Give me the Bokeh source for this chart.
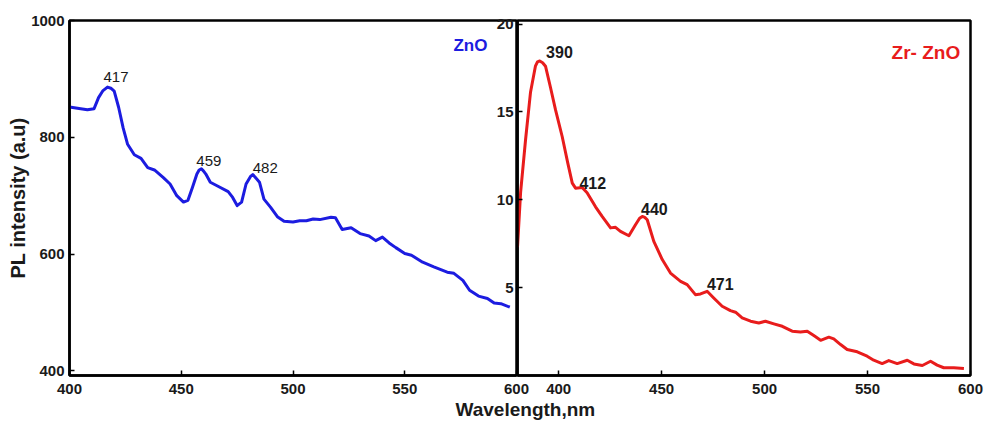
import numpy as np
from bokeh.plotting import figure
from bokeh.models import Range1d, FixedTicker, Label, ColumnDataSource, Title
from bokeh.layouts import row
from bokeh.embed import file_html
from bokeh.resources import INLINE
from bokeh.core.properties import value

# ---------------- data ----------------
zno_wl = [400, 405, 408, 411, 413, 415, 417, 418.5, 420, 422, 424, 426, 429, 432, 435, 438, 442,
          445, 448, 451, 453, 455, 457, 458, 459, 460, 461, 463, 466, 471, 473, 475, 477, 479,
          481, 482, 483, 485, 487, 490, 493, 496, 500, 503, 506, 509, 512, 517, 519, 522, 526,
          530, 534, 537, 540, 543, 546, 550, 553, 558, 563, 569, 572, 576, 579, 583,
          587, 590, 593, 597]
zno_pl = [852, 849, 847, 849, 868, 880, 886, 884, 879, 851, 816, 788, 770, 764, 748, 744, 731,
          720, 700, 689, 692, 714, 737, 744, 746, 742, 737, 723, 717, 707, 697, 683, 689, 720,
          733, 736, 732, 723, 694, 680, 664, 656, 655, 657, 657, 660, 659, 663, 662, 642, 645,
          635, 631, 623, 629, 619, 611, 601, 598, 586, 578, 569, 567, 555, 538, 528,
          524, 516, 515, 509]

zr_wl = [380, 381.5, 383.9, 386.3, 388.7, 389.7, 390.8, 392.2, 393.6, 396, 398.5, 401.7, 404.4,
         406.6, 408.2, 411.4, 413.8, 417.9, 421.1, 425.2, 427.6, 430, 434.1, 437.3, 439.3,
         440.6, 441.8, 443, 446.2, 450.3, 454.3, 459.2, 462.4, 466.4, 468.9, 472.1, 475.3,
         479.4, 483.4, 485.9, 489.1, 493.2, 497.2, 500.4, 504.5, 508.6, 513.4, 517.4, 520.7,
         523.9, 527.2, 531.2, 533.6, 536.9, 540.1, 545, 549.8, 553, 557.1, 560.3, 564.4, 569.3,
         572.5, 576.6, 580.6, 583.8, 587, 591.9, 596.8]
zr_pl = [7.3, 10.4, 13.4, 16.1, 17.6, 17.85, 17.9, 17.8, 17.6, 16.4, 15.1, 13.6, 12.1,
         10.95, 10.66, 10.7, 10.4, 9.6, 9.05, 8.4, 8.43, 8.2, 7.95, 8.58, 8.95,
         9.05, 9.0, 8.86, 7.63, 6.6, 5.83, 5.36, 5.17, 4.6, 4.64, 4.79, 4.41,
         3.94, 3.69, 3.6, 3.28, 3.09, 2.99, 3.09, 2.94, 2.8, 2.52, 2.48, 2.52,
         2.27, 2.0, 2.18, 2.08, 1.76, 1.48, 1.35, 1.1, 0.87, 0.68, 0.85, 0.68, 0.87,
         0.66, 0.57, 0.81, 0.59, 0.44, 0.44, 0.4]

zno_peaks = [417, 459, 482]
zr_peaks = [390, 412, 440, 471]

zno_xticks = [400, 450, 500, 550, 600]
zno_yticks = [400, 600, 800, 1000]
zr_xticks = [400, 450, 500, 550, 600]
zr_yticks = [5, 10, 15, 20]

# label nudges in pixels (style)
zno_dx = [-4, -5, 0]
zno_dy = [-10, -8, -7]
zr_dx = [8, -4, 0, 2]
zr_dy = [-10, -6, -8, -8]

FONT = "Liberation Sans"
BLUE = "#1c1ce0"
RED = "#e81c1c"
TXT = "#1a1a1a"


def style(p, xticks, yticks):
    p.grid.visible = False
    p.outline_line_color = "black"
    p.outline_line_width = 2.5
    p.outline_line_alpha = 1.0
    p.xaxis.ticker = FixedTicker(ticks=xticks)
    p.yaxis.ticker = FixedTicker(ticks=yticks)
    for ax in p.axis:
        ax.axis_line_width = 2.5
        ax.axis_line_color = "black"
        ax.major_tick_in = 5
        ax.major_tick_out = 0
        ax.major_tick_line_width = 1.5
        ax.major_tick_line_color = "black"
        ax.minor_tick_line_color = None
        ax.major_label_text_font = FONT
        ax.major_label_text_font_style = "bold"
        ax.major_label_text_font_size = "15px"
        ax.major_label_text_color = TXT
    p.xaxis.major_label_standoff = 8
    p.yaxis.major_label_standoff = 5


# ---------------- left panel: ZnO ----------------
left = figure(frame_width=447, frame_height=355,
              x_range=Range1d(400, 600), y_range=Range1d(392, 1000),
              output_backend="svg", toolbar_location=None,
              min_border_left=69, min_border_right=92,
              min_border_top=20, min_border_bottom=47)
left.border_fill_color = "white"
style(left, zno_xticks, zno_yticks)
left.yaxis.axis_label = "PL intensity (a.u)"
left.yaxis.axis_label_text_font = FONT
left.yaxis.axis_label_text_font_style = "bold"
left.yaxis.axis_label_text_font_size = "20px"
left.yaxis.axis_label_text_color = TXT
left.yaxis.axis_label_standoff = -1

left.line(zno_wl, zno_pl, line_color=BLUE, line_width=3, line_join="round")

zno_src = ColumnDataSource(dict(
    x=zno_peaks,
    y=list(np.interp(zno_peaks, zno_wl, zno_pl)),
    t=[str(v) for v in zno_peaks],
    dx=zno_dx, dy=zno_dy))
left.text(x="x", y="y", text="t", x_offset="dx", y_offset="dy", source=zno_src,
          text_font=value(FONT), text_font_size="15px", text_color=TXT,
          text_align="left", text_baseline="alphabetic")

left.add_layout(Label(x=587, y=973, text="ZnO", text_align="right", text_baseline="top",
                      text_font=FONT, text_font_style="bold", text_font_size="17px",
                      text_color=BLUE))

# shared x-axis title, sitting under the junction of the two panels
left.add_layout(Title(text="Wavelength,nm", align="left", offset=386, standoff=0,
                      text_font=FONT, text_font_style="bold", text_font_size="19px",
                      text_color=TXT), "below")

# ---------------- right panel: Zr-ZnO ----------------
right = figure(frame_width=453, frame_height=355,
               x_range=Range1d(380, 600), y_range=Range1d(0, 20.2),
               output_backend="svg", toolbar_location=None,
               min_border_left=40, min_border_right=14,
               min_border_top=20, min_border_bottom=47)
right.background_fill_alpha = 0
right.border_fill_alpha = 0
style(right, zr_xticks, zr_yticks)
right.yaxis.major_label_standoff = 4
right.margin = (0, 0, 0, -131)

right.line(zr_wl, zr_pl, line_color=RED, line_width=3, line_join="round")

zr_src = ColumnDataSource(dict(
    x=zr_peaks,
    y=list(np.interp(zr_peaks, zr_wl, zr_pl)),
    t=[str(v) for v in zr_peaks],
    dx=zr_dx, dy=zr_dy))
right.text(x="x", y="y", text="t", x_offset="dx", y_offset="dy", source=zr_src,
           text_font=value(FONT), text_font_size="16px", text_font_style="bold",
           text_color=TXT, text_align="left", text_baseline="alphabetic")

right.add_layout(Label(x=595, y=19.0, text="Zr- ZnO", text_align="right", text_baseline="top",
                       text_font=FONT, text_font_style="bold", text_font_size="19px",
                       text_color=RED))

layout = row(left, right)
open("out.html", "w").write(file_html(layout, INLINE))
